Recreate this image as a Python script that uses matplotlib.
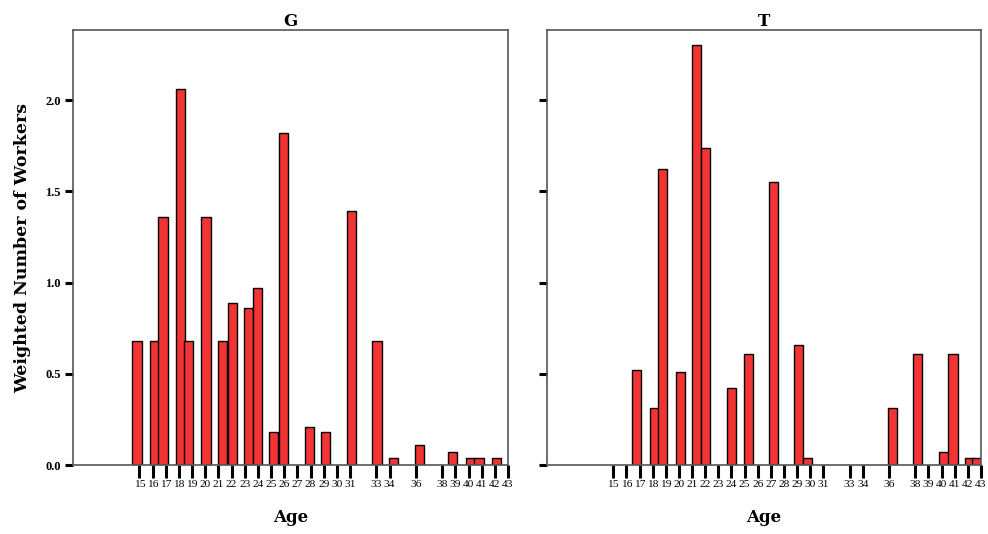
import matplotlib.pyplot as plt

# Data (bar centres in years of age)
g_age = [14.81, 16.14, 16.79, 18.12, 18.73, 20.06, 21.32, 22.04, 23.26, 23.94,
         25.20, 25.92, 27.90, 29.16, 31.13, 33.04, 34.29, 36.27, 38.78, 40.15,
         40.80, 42.13]
g_val = [0.68, 0.68, 1.36, 2.06, 0.68, 1.36, 0.68, 0.89, 0.86, 0.97,
         0.18, 1.82, 0.21, 0.18, 1.39, 0.68, 0.04, 0.11, 0.07, 0.04,
         0.04, 0.04]

t_age = [16.79, 18.12, 18.73, 20.10, 21.32, 22.00, 23.98, 25.27, 27.18, 29.12,
         29.80, 36.27, 38.17, 40.19, 40.87, 42.13, 42.70]
t_val = [0.52, 0.31, 1.62, 0.51, 2.30, 1.74, 0.42, 0.61, 1.55, 0.66,
         0.04, 0.31, 0.61, 0.07, 0.61, 0.04, 0.04]

tick_ages = list(range(15, 32)) + [33, 34, 36, 38, 39, 40, 41, 42, 43]
y_ticks = [0.0, 0.5, 1.0, 1.5, 2.0]

BAR_COLOR = "#f23333"
SERIF = "Liberation Serif"
HEAVY = "DejaVu Serif"

fig = plt.figure(figsize=(9.88, 5.34), dpi=100)
ax_g = fig.add_axes([0.0739, 0.1292, 0.4403, 0.8146])
ax_t = fig.add_axes([0.5536, 0.1292, 0.4393, 0.8146])

panels = [(ax_g, "G", g_age, g_val), (ax_t, "T", t_age, t_val)]
for ax, title, ages, vals in panels:
    ax.bar(ages, vals, width=0.7, color=BAR_COLOR, edgecolor="black",
           linewidth=1.0, zorder=2)
    ax.set_xlim(9.95, 43.0)
    ax.set_ylim(0, 2.384)
    ax.set_xticks(tick_ages)
    ax.set_xticklabels([str(a) for a in tick_ages], fontsize=8.2,
                       family=SERIF)
    ax.set_yticks(y_ticks)
    ax.tick_params(axis="x", length=9, width=2.2, direction="out",
                   color="black", pad=2)
    ax.tick_params(axis="y", length=6, width=2.2, direction="out",
                   color="black", pad=3)
    for sp in ax.spines.values():
        sp.set_color("#555555")
        sp.set_linewidth(1.2)
    ax.set_title(title, fontsize=12, fontweight="bold", family=HEAVY, pad=3)
    ax.set_xlabel("Age", fontsize=12, fontweight="bold", family=HEAVY,
                  labelpad=14)

ax_g.set_yticklabels([f"{v:.1f}" for v in y_ticks], fontsize=9,
                     family=SERIF, fontweight="bold")
ax_t.set_yticklabels([])
ax_g.set_ylabel("Weighted Number of Workers", fontsize=12.5,
                fontweight="bold", family=HEAVY, labelpad=10)

fig.savefig("out.png", dpi=100)
